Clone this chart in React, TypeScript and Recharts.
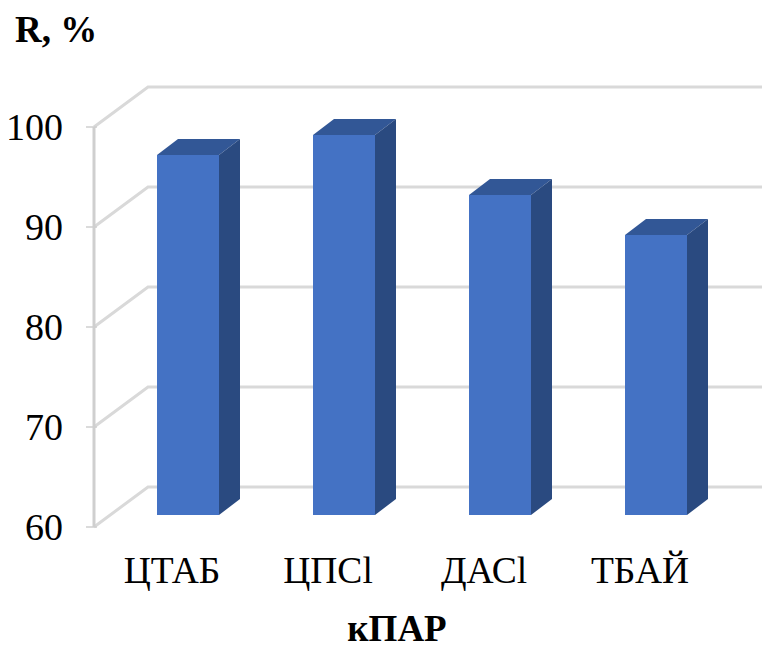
import React from 'react';
import { BarChart, Bar, XAxis, YAxis, CartesianGrid } from 'recharts';

const surfactants = ['ЦТАБ', 'ЦПСl', 'ДАСl', 'ТБАЙ'];
const recovery = [96, 98, 92, 88];
const valueTicks = [60, 70, 80, 90, 100];

const chartData = surfactants.map((name, i) => ({ name, recovery: recovery[i] }));

const FONT = '"Liberation Serif", "Times New Roman", serif';
const GRID = '#d9d9d9';
const AXIS = '#cfcfcf';

// depth of the 3D box: back wall sits this far from the axis plane
const WALL_DX = 54;
const WALL_DY = 40;
// bars stand partway into the floor
const BAR_DX = 16;
const BAR_DY = 12;
const SIDE_DX = 21;
const SIDE_DY = 16;

const Bar3D = (props: any) => {
  const { x, y, width, height } = props;
  const fx = x + BAR_DX;
  const fy = y - BAR_DY;
  const r = fx + width;
  const b = fy + height;
  return (
    <g>
      <polygon
        points={`${fx},${fy} ${fx + SIDE_DX},${fy - SIDE_DY} ${r + SIDE_DX},${fy - SIDE_DY} ${r},${fy}`}
        fill="#325796"
      />
      <polygon
        points={`${r},${fy} ${r + SIDE_DX},${fy - SIDE_DY} ${r + SIDE_DX},${b - SIDE_DY} ${r},${b}`}
        fill="#2a4a80"
      />
      <rect x={fx} y={fy} width={width} height={height} fill="#4472c4" />
    </g>
  );
};

// floor/wall edge plus the line across the back wall
const WallLine = (props: any) => {
  const { x1, x2, y1 } = props;
  return (
    <polyline
      points={`${x1},${y1} ${x1 + WALL_DX},${y1 - WALL_DY} ${x2 + WALL_DX},${y1 - WALL_DY}`}
      fill="none"
      stroke={GRID}
      strokeWidth={3}
    />
  );
};

const ValueTick = (props: any) => {
  const { x, y, payload } = props;
  return (
    <g>
      <line x1={x} x2={x + 11} y1={y} y2={y} stroke={AXIS} strokeWidth={1.5} />
      <text x={63} y={y + 13} textAnchor="end" fontFamily={FONT} fontSize={38} fill="#000">
        {payload.value}
      </text>
    </g>
  );
};

const NameTick = (props: any) => {
  const { x, payload } = props;
  return (
    <text x={x} y={583} textAnchor="middle" fontFamily={FONT} fontSize={37.5} fill="#000">
      {payload.value}
    </text>
  );
};

const App = () => {
  return (
    <div style={{ position: 'absolute', left: 0, top: 0, background: '#fff' }}>
      <BarChart
        width={762}
        height={646}
        data={chartData}
        margin={{ top: 127, right: 44, bottom: 0, left: 0 }}
        barSize={62}
      >
        <CartesianGrid vertical={false} horizontal={(p: any) => <WallLine key={p.key} {...p} />} />
        <XAxis
          dataKey="name"
          axisLine={false}
          tickLine={false}
          height={119}
          tick={<NameTick />}
          interval={0}
        />
        <YAxis
          domain={[60, 100]}
          ticks={valueTicks}
          width={94}
          axisLine={{ stroke: AXIS, strokeWidth: 3 }}
          tickLine={false}
          tick={<ValueTick />}
        />
        <Bar dataKey="recovery" shape={<Bar3D />} isAnimationActive={false} />
        <text x={15} y={42} fontFamily={FONT} fontSize={37} fontWeight="bold" fill="#000">
          R, %
        </text>
        <text x={397} y={641} textAnchor="middle" fontFamily={FONT} fontSize={37} fontWeight="bold" fill="#000">
          кПАР
        </text>
      </BarChart>
    </div>
  );
};

export default App;
